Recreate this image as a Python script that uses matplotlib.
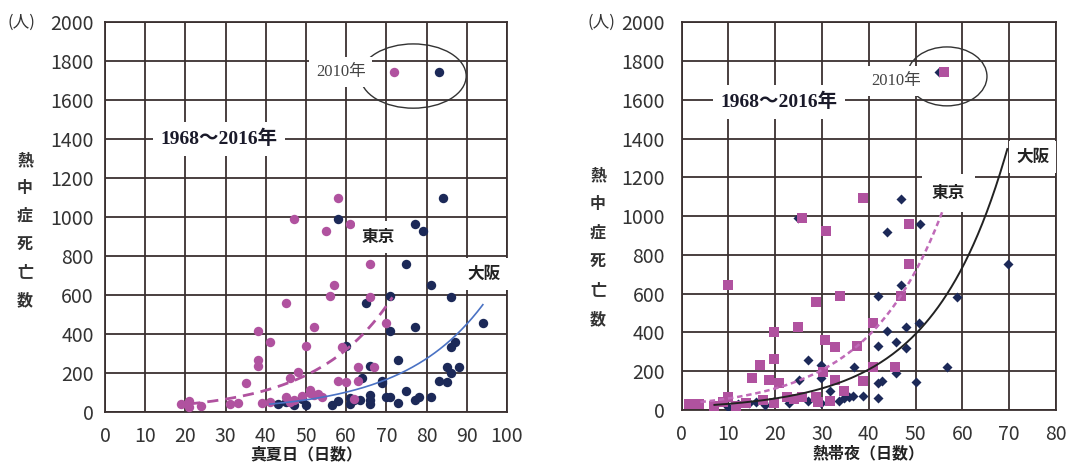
import numpy as np
import matplotlib
matplotlib.use("Agg")
import matplotlib.pyplot as plt
from matplotlib.patches import Ellipse

plt.rcParams['font.family'] = ['Noto Sans CJK JP', 'DejaVu Sans']

# ---- 真夏日 vs 熱中症死亡数 (1968-2016) ----
hot_tokyo_x = [72, 58, 47, 55, 61, 66, 57, 56, 66, 45, 70, 52, 38, 41, 50, 59, 38, 38, 63, 67,
               48, 46, 35, 58, 60, 63, 19, 21, 21, 24, 31, 33, 39, 41, 45, 46, 47, 49, 51, 52,
               54, 62, 51, 53]
hot_tokyo_y = [1745, 1097, 992, 926, 962, 757, 650, 593, 590, 556, 454, 434, 417, 360, 338, 334,
               266, 235, 231, 231, 203, 172, 149, 160, 154, 160, 38, 55, 26, 28, 38, 46, 46, 51,
               77, 51, 60, 81, 112, 86, 77, 64, 95, 90]
hot_osaka_x = [83, 84, 58, 77, 79, 75, 81, 71, 86, 65, 94, 77, 71, 60, 87, 86, 73, 66, 85, 86,
               88, 83, 85, 64, 69, 69, 75, 81, 78, 77, 70, 71, 73, 66, 66, 66, 63.5, 61, 61, 43,
               45, 47, 50, 49, 56.5, 58, 62]
hot_osaka_y = [1745, 1097, 992, 962, 926, 757, 650, 593, 590, 557, 454, 434, 417, 340, 360, 331,
               266, 235, 231, 200, 228, 160, 154, 172, 160, 146, 108, 77, 77, 60, 74, 77, 43, 86,
               60, 40, 60, 69, 40, 40, 51, 34, 34, 64, 34, 57, 60]

# ---- 熱帯夜 vs 熱中症死亡数 (1968-2016) ----
trop_tokyo_x = [56, 38.7, 25.7, 30.8, 48.6, 48.6, 9.8, 28.8, 33.9, 46.8, 24.8, 19.7, 40.8, 30.7,
                32.8, 37.5, 16.8, 19.7, 40.8, 45.6, 30.1, 15.0, 18.7, 20.9, 32.8, 38.8, 34.7, 1.6,
                3.8, 6.8, 9.8, 8.8, 11.6, 13.7, 17.3, 19.8, 22.6, 24.1, 25.7, 28.7, 29.1, 31.7]
trop_tokyo_y = [1745, 1095, 993, 923, 962, 753, 646, 555, 588, 588, 428, 404, 447, 361, 326, 330,
                232, 261, 220, 220, 197, 163, 155, 138, 155, 151, 99, 31, 31, 21, 69, 43, 21, 34,
                52, 34, 69, 55, 69, 69, 43, 48]
trop_osaka_x = [55, 46.8, 24.8, 50.9, 43.8, 69.8, 46.8, 42.0, 58.8, 50.8, 47.9, 43.9, 42.0, 45.9,
                47.9, 26.9, 29.8, 36.9, 56.8, 45.9, 50.0, 42.0, 42.9, 25.1, 29.8, 31.7, 42.0, 38.8,
                36.7, 35.8, 34.7, 33.7, 29.8, 26.9, 22.9, 17.7, 15.8, 10.0, 12.1, 14.3, 19.6, 7.0]
trop_osaka_y = [1745, 1091, 993, 959, 919, 753, 644, 588, 584, 447, 426, 409, 330, 352, 318, 258,
                232, 223, 220, 192, 146, 137, 151, 155, 163, 100, 60, 72, 72, 69, 60, 48, 38, 45,
                34, 24, 43, 14, 30, 35, 40, 20]

# exponential trend coefficients: y = a * exp(b * x), drawn over [x0, x1]
hot_tokyo_fit = (13.1, 0.0532, 21, 71.5)
hot_osaka_fit = (5.0, 0.0500, 41, 94)
trop_tokyo_fit = (32.0, 0.0622, 4, 55.7)
trop_osaka_fit = (16.9, 0.0629, 7, 69.6)

pink = '#b0529f'
navy = '#1c2958'
grid_c = '#3a3030'
tick_c = '#333333'

fig = plt.figure(figsize=(10.7, 4.66), dpi=100)
axL = fig.add_axes([0.0981, 0.1165, 0.3757, 0.8356])
axR = fig.add_axes([0.6371, 0.1202, 0.3498, 0.8319])


def style(ax, xmax, ypad):
    ax.set_xlim(0, xmax)
    ax.set_ylim(0, 2000)
    ax.set_xticks(np.arange(0, xmax + 1, 10))
    ax.set_yticks(np.arange(0, 2001, 200))
    ax.set_axisbelow(True)
    ax.grid(True, color=grid_c, lw=1.3)
    for s in ax.spines.values():
        s.set_color(grid_c)
        s.set_linewidth(1.3)
    ax.tick_params(axis='both', length=0, labelsize=14, labelcolor=tick_c)
    ax.tick_params(axis='x', pad=10)
    ax.tick_params(axis='y', pad=ypad)


def curve(ax, fit, **kw):
    a, b, x0, x1 = fit
    xs = np.linspace(x0, x1, 200)
    ax.plot(xs, a * np.exp(b * xs), **kw)


box = dict(facecolor='white', edgecolor='none', boxstyle='square,pad=0.4')
serif = ['Liberation Serif', 'Noto Sans CJK JP']

# left panel
style(axL, 100, 8)
axL.scatter(hot_osaka_x, hot_osaka_y, s=46, color=navy, zorder=3, linewidths=0)
axL.scatter(hot_tokyo_x, hot_tokyo_y, s=46, color=pink, zorder=3.5, linewidths=0)
curve(axL, hot_tokyo_fit, color=pink, lw=2, ls=(0, (4, 2.5)), zorder=4)
curve(axL, hot_osaka_fit, color='#4a72c4', lw=1.2, zorder=4)
axL.add_patch(Ellipse((76.7, 1724), 26.3, 330, fill=False, ec='#333333', lw=1, zorder=4))
axL.text(58.7, 1745, '2010年', ha='center', va='center', fontsize=12, color='#444444',
         family=serif, bbox=box, zorder=6)
axL.text(28.4, 1400, '1968～2016年', ha='center', va='center', fontsize=14, fontweight='bold',
         color='#1a1a2a', family=serif, bbox=box, zorder=6)
axL.text(68, 898, '東京', ha='center', va='center', fontsize=12, fontweight='bold',
         color='#222222', bbox=box, zorder=6)
axL.text(94.4, 707, '大阪', ha='center', va='center', fontsize=12, fontweight='bold',
         color='#222222', bbox=box, zorder=6)
axL.set_xlabel('真夏日（日数）', fontsize=11.5, fontweight='bold', color='#222222', labelpad=0)

# right panel
style(axR, 80, 12)
axR.scatter(trop_osaka_x, trop_osaka_y, s=26, marker='D', color=navy, zorder=3, linewidths=0)
axR.scatter(trop_tokyo_x, trop_tokyo_y, s=60, marker='s', color=pink, zorder=3.5, linewidths=0)
curve(axR, trop_tokyo_fit, color='#c06ab8', lw=1.8, ls=(0, (2.2, 1.5)), zorder=4)
curve(axR, trop_osaka_fit, color='#222222', lw=1.4, zorder=4)
axR.add_patch(Ellipse((56.7, 1721), 17.1, 304, fill=False, ec='#333333', lw=1, zorder=4))
axR.text(45.8, 1697, '2010年', ha='center', va='center', fontsize=12, color='#444444',
         family=serif, bbox=box, zorder=6)
axR.text(20.8, 1590, '1968～2016年', ha='center', va='center', fontsize=14, fontweight='bold',
         color='#1a1a2a', family=serif, bbox=box, zorder=6)
axR.text(57, 1120, '東京', ha='center', va='center', fontsize=12, fontweight='bold',
         color='#222222', bbox=dict(facecolor='white', edgecolor='none',
                                    boxstyle='square,pad=0.6'), zorder=6)
axR.text(75, 1305, '大阪', ha='center', va='center', fontsize=12, fontweight='bold',
         color='#222222', bbox=box, zorder=6)
axR.set_xlabel('熱帯夜（日数）', fontsize=11.5, fontweight='bold', color='#222222', labelpad=0)

# unit labels and vertical axis titles
W, H = 1070, 466
fig.text(21 / W, 1 - 22 / H, '(人)', ha='center', va='center', fontsize=12, color='#333333')
fig.text(601 / W, 1 - 22 / H, '(人)', ha='center', va='center', fontsize=12, color='#333333')
for i, ch in enumerate('熱中症死亡数'):
    fig.text(25 / W, 1 - (160 + 28 * i) / H, ch, ha='center', va='center', fontsize=11.5,
             fontweight='bold', color='#333333')
    fig.text(598 / W, 1 - (175 + 28.8 * i) / H, ch, ha='center', va='center', fontsize=11.5,
             fontweight='bold', color='#333333')

fig.savefig('out.png', dpi=100)
